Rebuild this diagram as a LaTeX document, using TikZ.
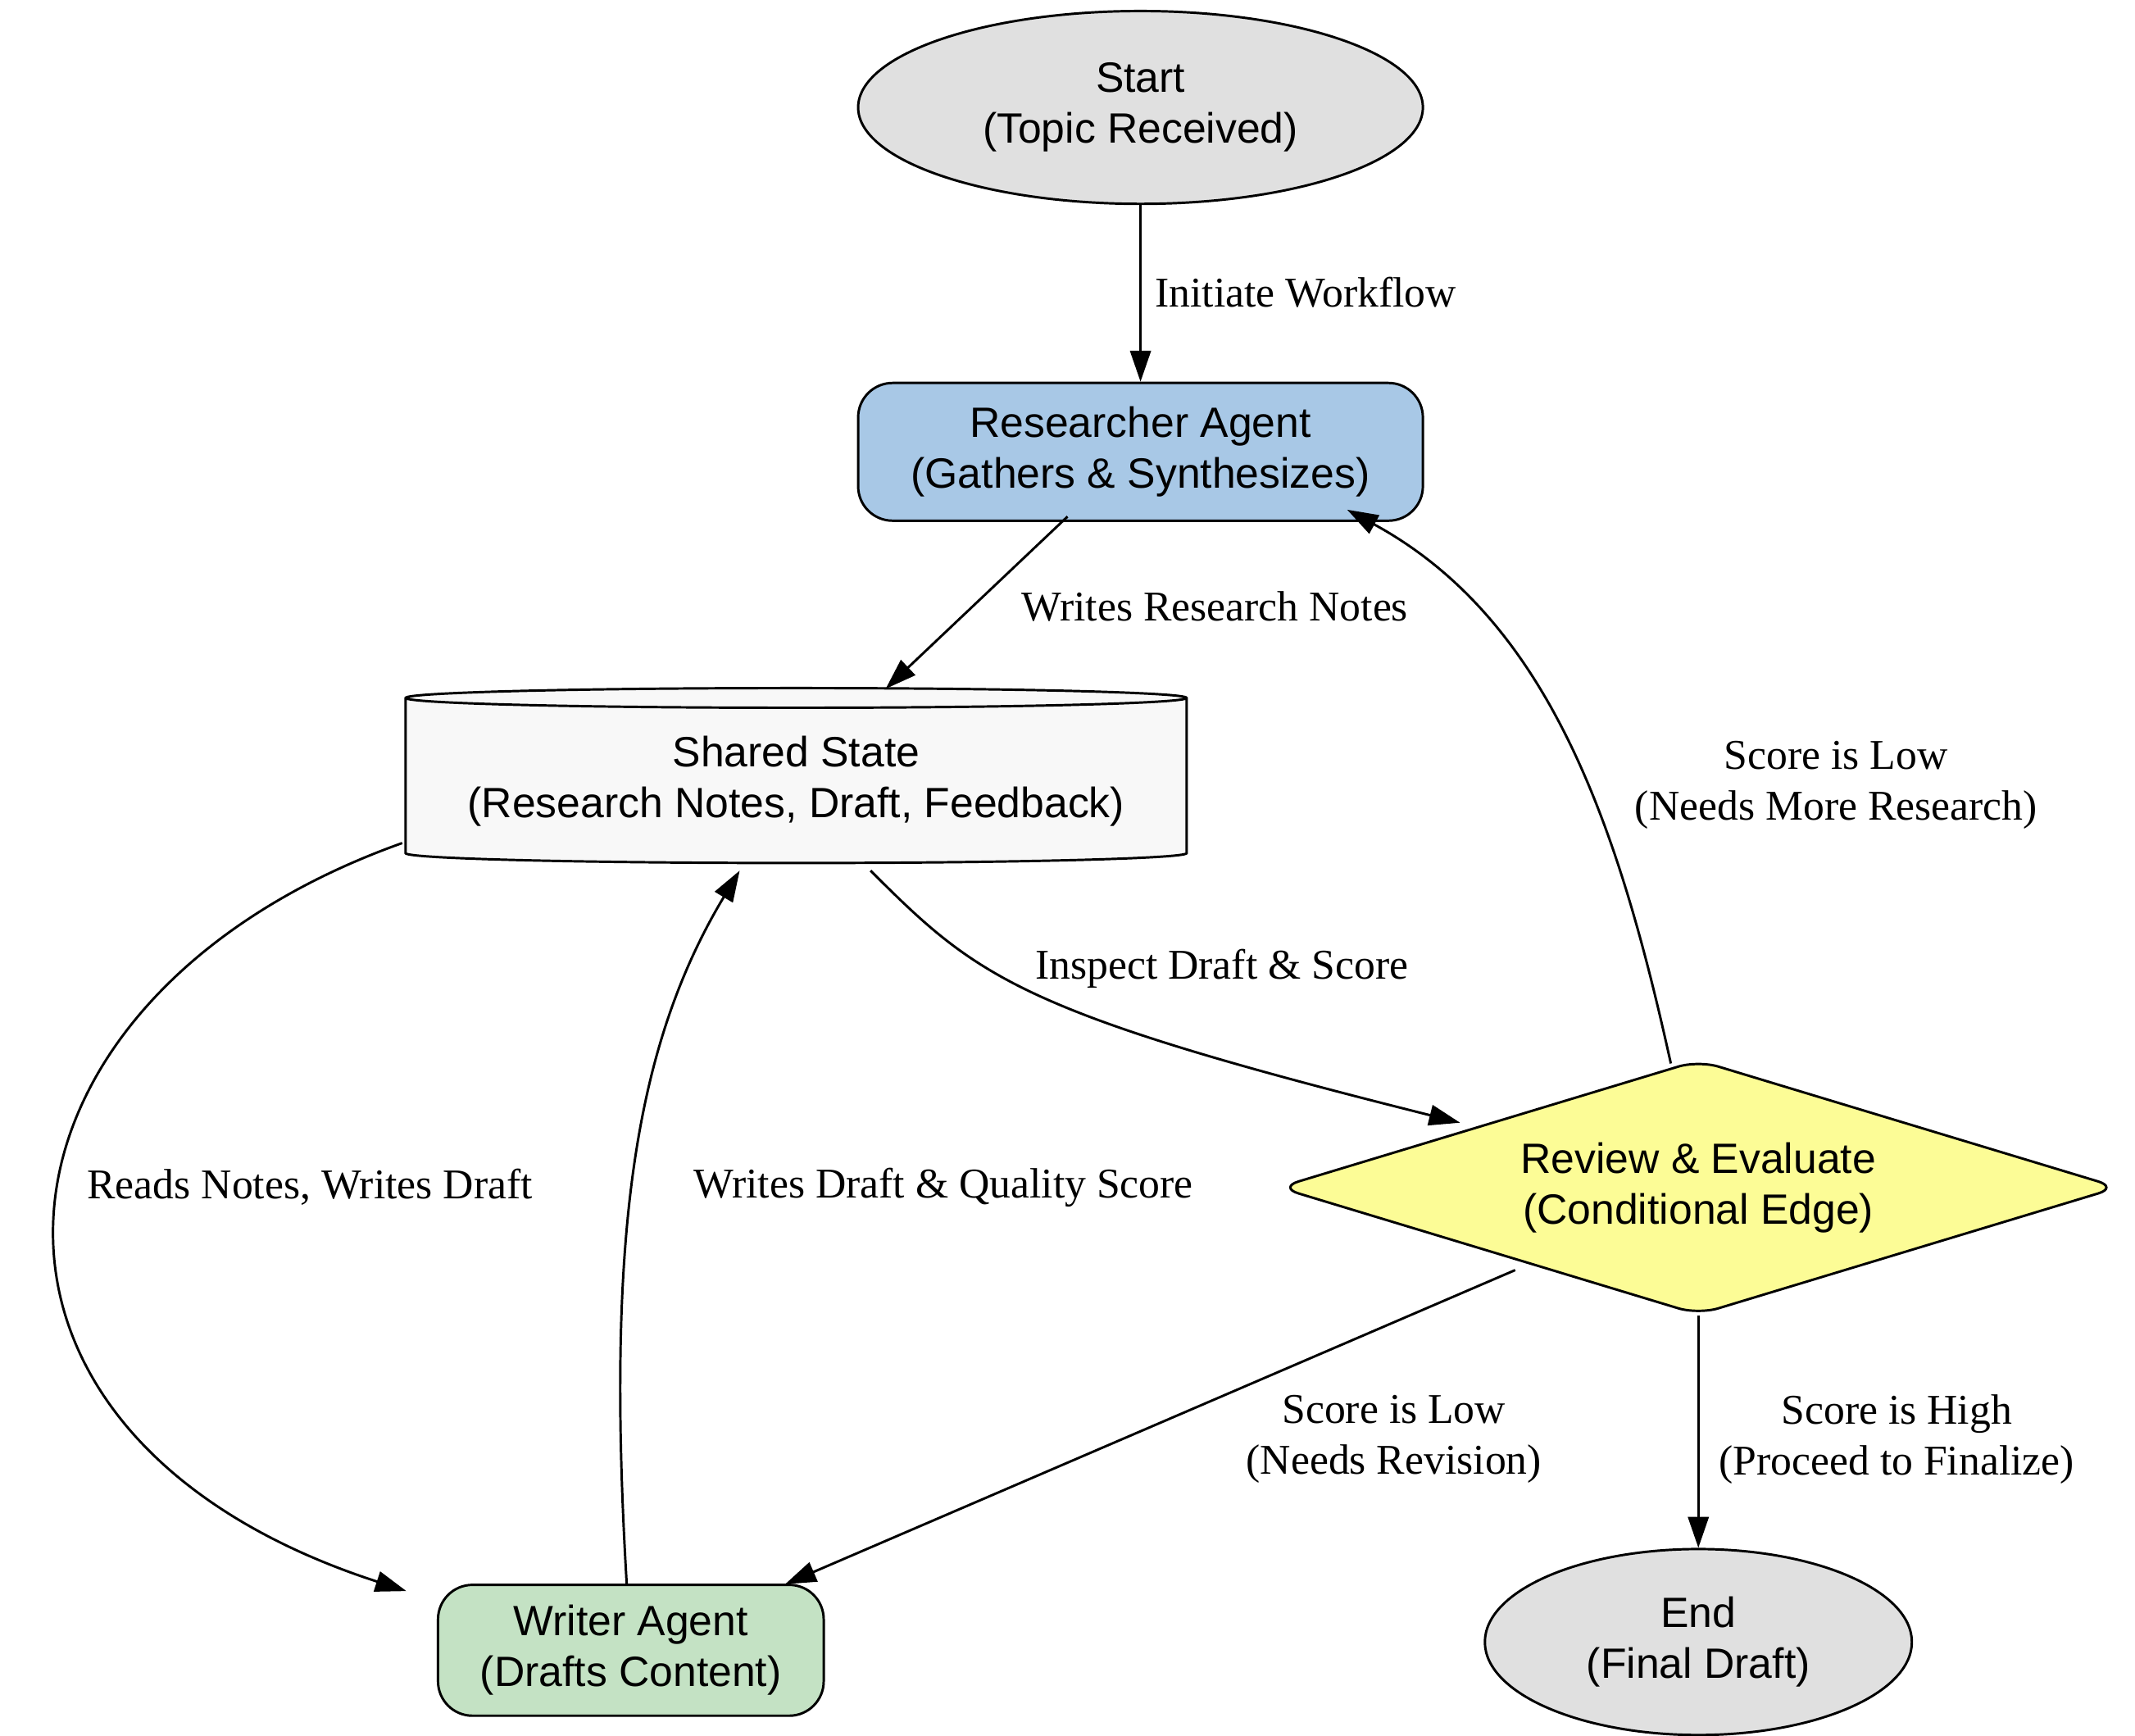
\documentclass[tikz,border=0pt]{standalone}
\usepackage{fontspec}
\setmainfont{Liberation Serif}
\newfontfamily\nodefont{Liberation Sans}
\usetikzlibrary{shapes.geometric,arrows.meta,positioning}

\tikzset{
  box/.style={draw, line width=1pt, align=center, font=\nodefont\fontsize{17.5}{21}\selectfont, inner sep=0pt},
  agent/.style={box, rounded corners=0.5cm, minimum height=2cm},
  term/.style={box, ellipse, fill=termgray},
  flow/.style={line width=1pt, -{Triangle[length=0.45cm,width=0.3cm]}},
  lab/.style={font=\fontsize{17.5}{21}\selectfont, align=center}
}
\definecolor{termgray}{HTML}{E0E0E0}
\definecolor{resblue}{HTML}{A8C8E6}
\definecolor{wrigreen}{HTML}{C4E2C4}
\definecolor{revyellow}{HTML}{FCFC96}
\definecolor{stategray}{HTML}{F8F8F8}

\begin{document}
\begin{tikzpicture}
 \useasboundingbox (0,0) rectangle (31,-25.2);

    % nodes
    \node[term, minimum width=8.2cm, minimum height=2.8cm] (start) at (16.56,-1.56) {Start\\(Topic Received)};
    \node[agent, fill=resblue, minimum width=8.2cm] (research) at (16.56,-6.56) {Researcher Agent\\(Gathers \& Synthesizes)};
    \node[box, cylinder, shape border rotate=90, aspect=0.03, fill=stategray,
          minimum width=11.34cm, minimum height=2.54cm] (state) at (11.56,-11.34) {Shared State\\(Research Notes, Draft, Feedback)};
    \node[box, diamond, fill=revyellow, rounded corners=0.3cm, aspect=3.3,
          minimum width=12.2cm, minimum height=3.7cm] (review) at (24.66,-17.24) {Review \& Evaluate\\(Conditional Edge)};
    \node[agent, fill=wrigreen, minimum width=5.6cm, minimum height=1.9cm] (writer) at (9.16,-23.96) {Writer Agent\\(Drafts Content)};
    \node[term, minimum width=6.2cm, minimum height=2.7cm] (end) at (24.66,-23.84) {End\\(Final Draft)};

    % edge ends
    \coordinate (r1) at (15.5,-7.5);
    \coordinate (s1) at (12.86,-10.0);
    \coordinate (s2) at (12.64,-12.64);
    \coordinate (s3) at (5.84,-12.24);
    \coordinate (s4) at (10.74,-12.64);
    \coordinate (v1) at (21.2,-16.3);
    \coordinate (v2) at (24.26,-15.44);
    \coordinate (v3) at (22.0,-18.44);
    \coordinate (v4) at (24.66,-19.1);
    \coordinate (r2) at (19.56,-7.4);
    \coordinate (w1) at (5.9,-23.1);
    \coordinate (w2) at (9.1,-23.0);
    \coordinate (w3) at (11.4,-23.0);

    % edges
    \draw[flow] (start) -- (research);
    \draw[flow] (r1) -- (s1);
    \draw[flow] (s2) .. controls (14.2,-14.2) and (14.8,-14.7) .. (v1);
    \draw[flow] (v2) .. controls (23.5,-12) and (22.5,-9) .. (r2);
    \draw[flow] (s3) .. controls (-0.5,-14.5) and (-1.2,-20.8) .. (w1);
    \draw[flow] (w2) .. controls (8.8,-18) and (9.2,-15.2) .. (s4);
    \draw[flow] (v3) -- (w3);
    \draw[flow] (v4) -- (end);

    % edge labels
    \node[lab] (l_init) at (18.96,-4.24) {Initiate Workflow};
    \node[lab] (l_notes) at (17.64,-8.8) {Writes Research Notes};
    \node[lab] (l_insp) at (17.74,-14.06) {Inspect Draft \& Score};
    \node[lab] (l_more) at (26.66,-11.4) {Score is Low\\(Needs More Research)};
    \node[lab] (l_reads) at (4.5,-17.24) {Reads Notes, Writes Draft};
    \node[lab] (l_qual) at (13.7,-17.24) {Writes Draft \& Quality Score};
    \node[lab] (l_rev) at (20.24,-20.9) {Score is Low\\(Needs Revision)};
    \node[lab] (l_high) at (27.54,-20.9) {Score is High\\(Proceed to Finalize)};
\end{tikzpicture}
\end{document}
